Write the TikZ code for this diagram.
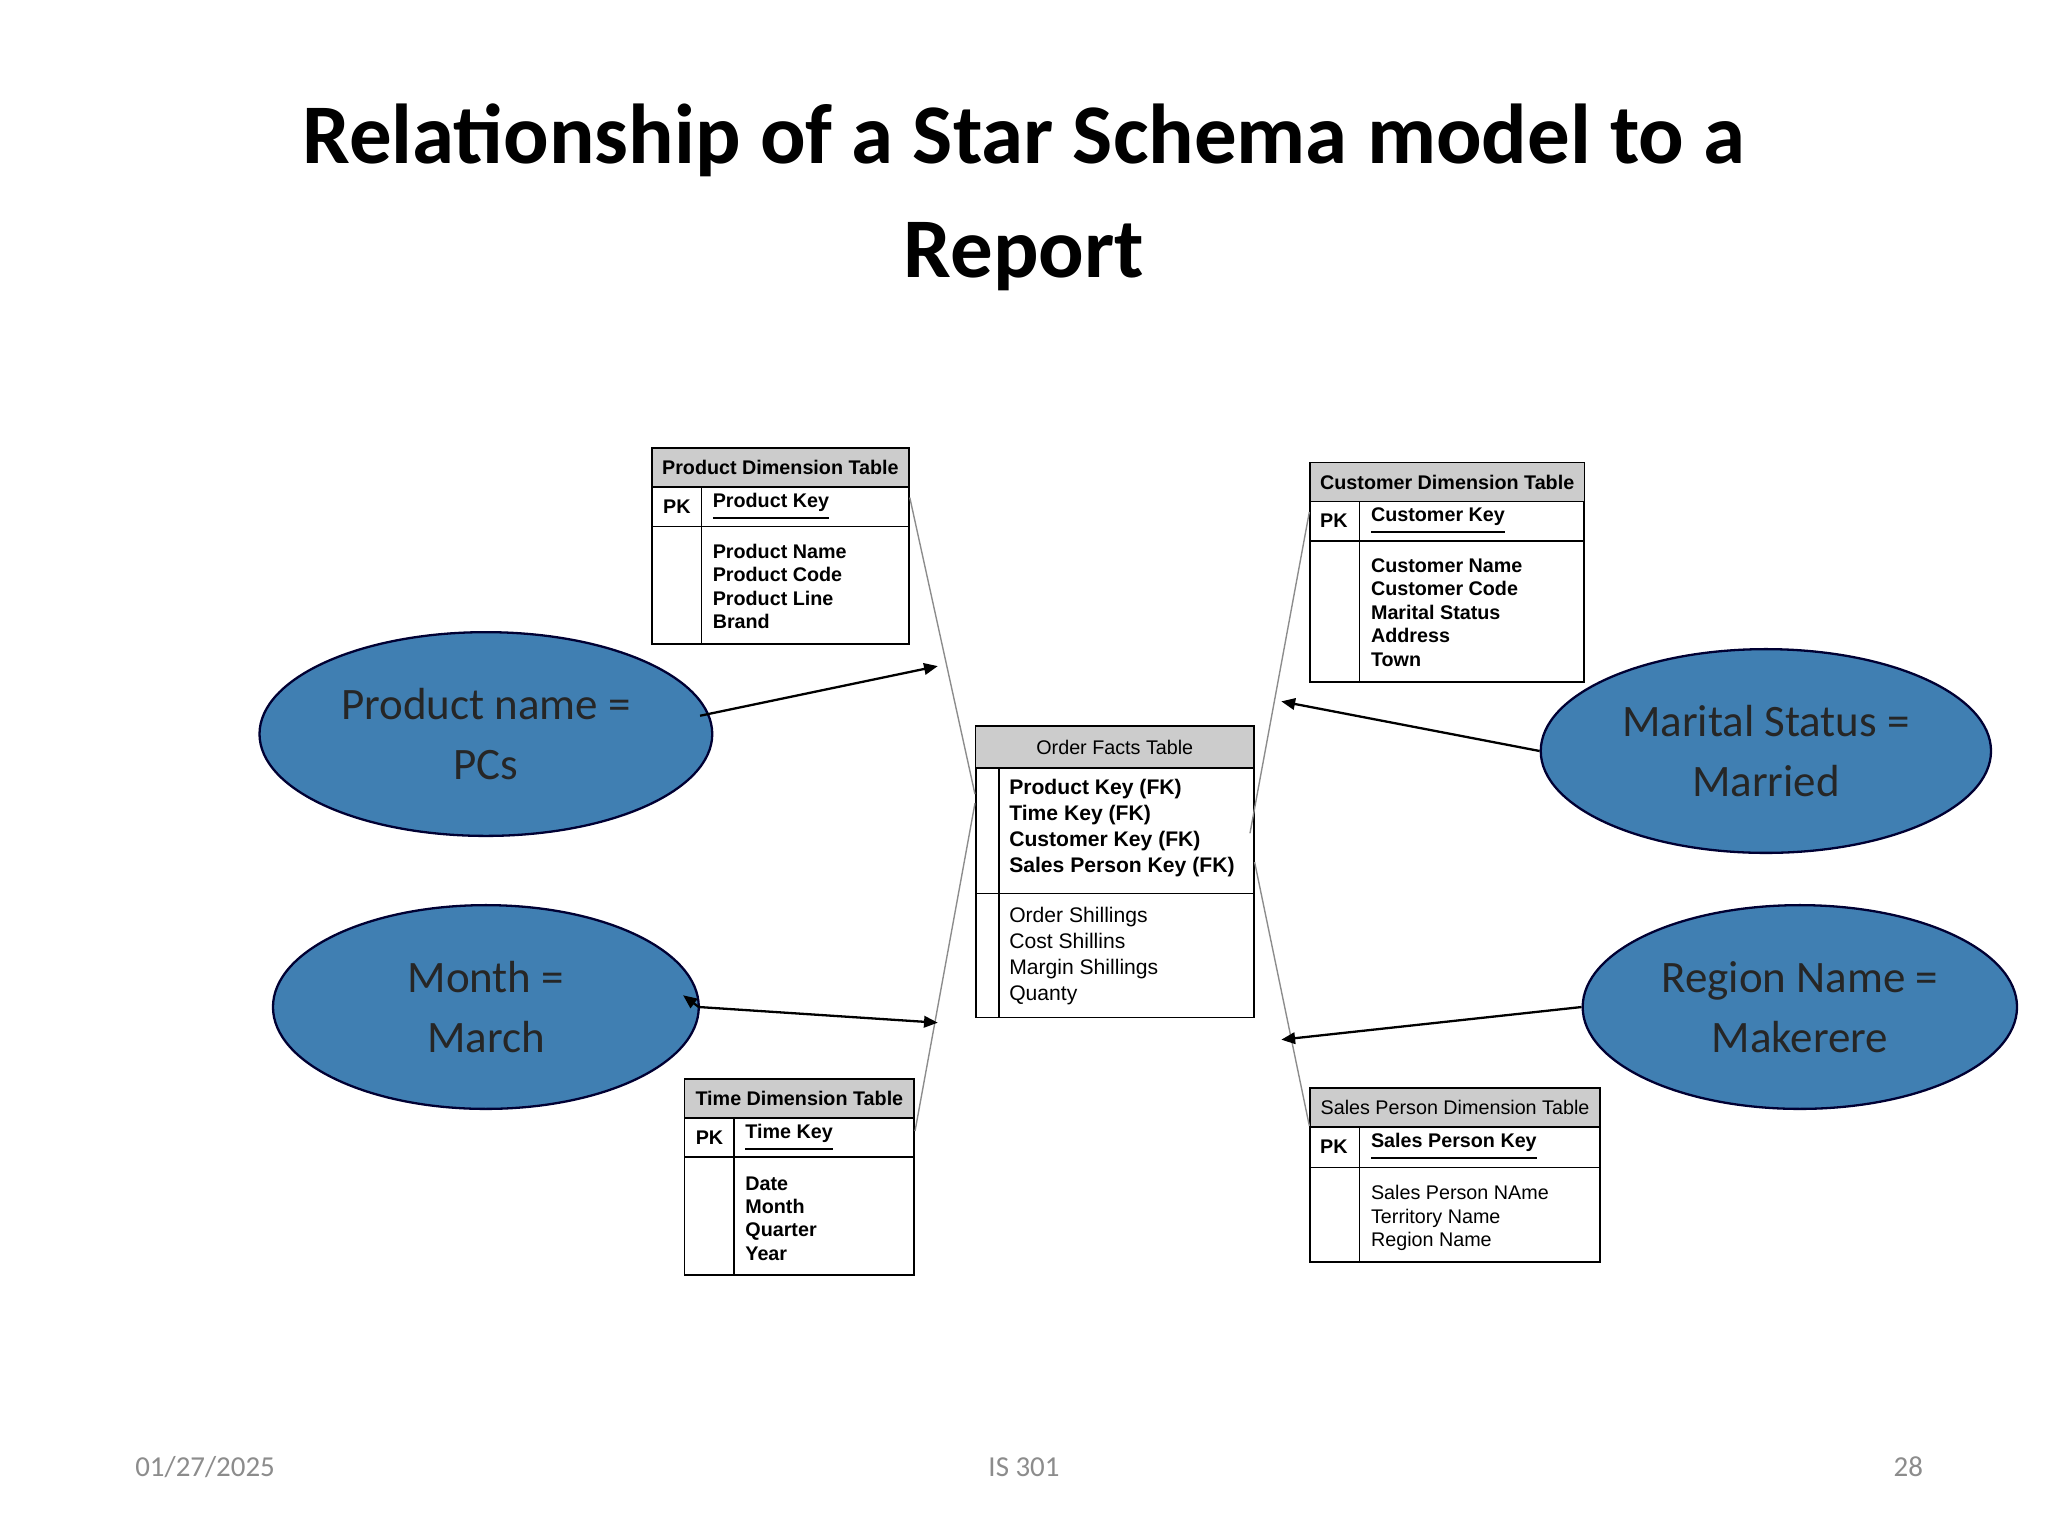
\documentclass[tikz,border=0pt]{standalone}
\usepackage{fontspec}
\setmainfont{Carlito}
\newfontfamily\arial{Liberation Sans}
\usetikzlibrary{arrows.meta}
\newcommand{\tbl}[9]{%
% name, x1, x2, ytop, yh, yp, ybot, xd, title
\node[draw=black,line width=0.35pt,inner sep=0,minimum width={(#3-#2)*0.01cm},minimum height={(#7-#4)*0.01cm}] (#1) at ({(#2+#3)/200},{-(#4+#7)/200}) {};
\fill[hdr] ({#2/100},{-#4/100}) rectangle ({#3/100},{-#5/100});
\draw[line width=0.35pt] ({#2/100},{-#4/100}) rectangle ({#3/100},{-#7/100});
\draw[line width=0.35pt] ({#2/100},{-#5/100}) -- ({#3/100},{-#5/100});
\draw[line width=0.35pt] ({#2/100},{-#6/100}) -- ({#3/100},{-#6/100});
\draw[line width=0.35pt] ({#8/100},{-#5/100}) -- ({#8/100},{-#7/100});
\node[tt] at ({(#2+#3)/200},{-(#4+#5)/200}) {#9};
}
\tikzset{
 hdr/.style={fill=black!20},
 tt/.style={font=\arial\fontsize{4.3}{5}\selectfont,inner sep=0},
 body/.style={font=\arial\fontsize{4.3}{5.1}\selectfont,align=left,anchor=north west,inner sep=0},
 ell/.style={ellipse,draw=black!80!blue,line width=0.5pt,fill=blue!45!cyan!60!black!75,minimum width=3.26cm,minimum height=1.56cm,align=center,font=\fontsize{9.8}{13}\selectfont,text=black!85},
 arr/.style={-{Triangle[length=3pt,width=2.5pt]},line width=0.5pt},
 thin/.style={draw=black!45,line width=0.3pt},
}
\usetikzlibrary{shapes.geometric}
\begin{document}
\begin{tikzpicture}
\useasboundingbox (0,0) rectangle (15.68,-11.76);
\fill[white] (0,0) rectangle (15.68,-11.76);
\node[font=\bfseries\fontsize{18.5}{25}\selectfont,align=center] (title) at (7.84,-1.51) {Relationship of a Star Schema model to a\\Report};
% tables
\tbl{pdt}{499}{696}{343}{373}{403}{493}{537}{\bfseries Product Dimension Table}
\node[tt,anchor=west] at (5.07,-3.88) {\bfseries PK};
\node[tt,anchor=west] at (5.45,-3.88) {\bfseries\underline{Product Key}};
\node[body] at (5.45,-4.16) {\bfseries Product Name\\\bfseries Product Code\\\bfseries Product Line\\\bfseries Brand};
\tbl{cdt}{1003}{1213}{354}{384}{414}{522}{1041}{\bfseries Customer Dimension Table}
\node[tt,anchor=west] at (10.10,-3.99) {\bfseries PK};
\node[tt,anchor=west] at (10.49,-3.99) {\bfseries\underline{Customer Key}};
\node[body] at (10.49,-4.27) {\bfseries Customer Name\\\bfseries Customer Code\\\bfseries Marital Status\\\bfseries Address\\\bfseries Town};
\tbl{oft}{747}{960}{556}{588}{684}{779}{765}{Order Facts Table}
\node[body,font=\arial\fontsize{4.6}{5.65}\selectfont] at (7.72,-5.96) {\bfseries Product Key (FK)\\\bfseries Time Key (FK)\\\bfseries Customer Key (FK)\\\bfseries Sales Person Key (FK)};
\node[body,font=\arial\fontsize{4.6}{5.65}\selectfont] at (7.72,-6.94) {Order Shillings\\Cost Shillins\\Margin Shillings\\Quanty};
\tbl{tdt}{524}{700}{826}{856}{886}{976}{562}{\bfseries Time Dimension Table}
\node[tt,anchor=west] at (5.32,-8.71) {\bfseries PK};
\node[tt,anchor=west] at (5.70,-8.71) {\bfseries\underline{Time Key}};
\node[body] at (5.70,-9.00) {\bfseries Date\\\bfseries Month\\\bfseries Quarter\\\bfseries Year};
\tbl{sdt}{1003}{1225}{833}{863}{894}{966}{1041}{Sales Person Dimension Table}
\node[tt,anchor=west] at (10.10,-8.78) {\bfseries PK};
\node[tt,anchor=west] at (10.49,-8.78) {\bfseries\underline{Sales Person Key}};
\node[body] at (10.49,-9.07) {Sales Person NAme\\Territory Name\\Region Name};
% thin links
\draw[thin] (pdt.east |- 0,-3.81) -- (oft.west |- 0,-6.08);
\draw[thin] (cdt.west |- 0,-3.92) -- (9.57,-6.38);
\draw[thin] (tdt.east |- 0,-8.66) -- (oft.west |- 0,-6.15);
\draw[thin] (sdt.west |- 0,-8.62) -- (oft.east |- 0,-6.60);
% ellipses
\node[ell] (e1) at (3.72,-5.62) {Product name =\\PCs};
\node[ell] (e2) at (3.72,-7.71) {Month =\\March};
\node[ell] (e3) at (13.52,-5.75) {Marital Status =\\Married};
\node[ell] (e4) at (13.78,-7.71) {Region Name =\\Makerere};
\coordinate (a1) at (7.18,-5.10);
\coordinate (a2) at (7.18,-7.83);
\coordinate (a2b) at (5.23,-7.62);
\coordinate (a3) at (9.81,-5.37);
\coordinate (a4) at (9.81,-7.96);
\draw[arr] (5.36,-5.48) -- (a1);
\draw[arr] (5.35,-7.71) -- (a2);
\draw[arr] (5.35,-7.71) -- (a2b);
\draw[arr] (e3.west) -- (a3);
\draw[arr] (e4.west) -- (a4);
% footer
\node[text=black!45,font=\fontsize{6.3}{8}\selectfont] (f1) at (1.57,-11.23) {01/27/2025};
\node[text=black!45,font=\fontsize{6.3}{8}\selectfont] (f2) at (7.84,-11.23) {IS 301};
\node[text=black!45,font=\fontsize{6.3}{8}\selectfont] (f3) at (14.61,-11.23) {28};
\end{tikzpicture}
\end{document}
